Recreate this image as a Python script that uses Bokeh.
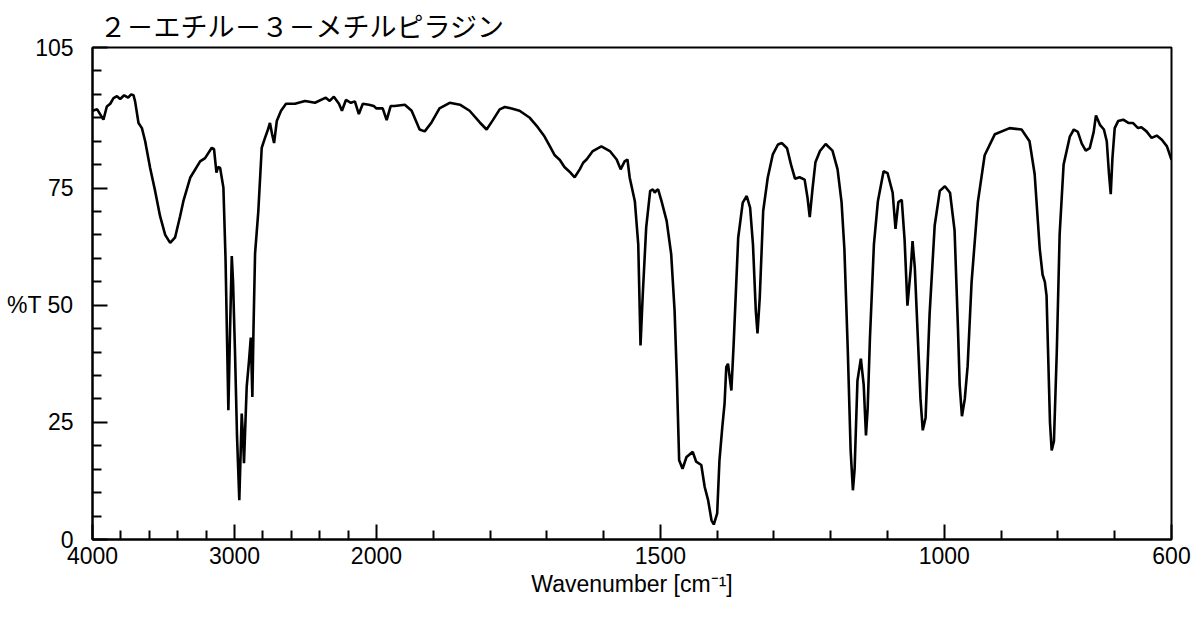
import numpy as np
from bokeh.plotting import figure
from bokeh.models import Range1d, FixedTicker
from bokeh.embed import file_html
from bokeh.resources import INLINE

title_text = "２－エチル－３－メチルピラジン"
x_label = "Wavenumber [cm⁻¹]"

wavenumber = [
    4000, 3967, 3923, 3899, 3875, 3852, 3828, 3805, 3777, 3749, 3728, 3711, 3700, 3676, 3652, 3629,
    3594, 3559, 3524, 3488, 3453, 3418, 3383, 3360, 3312, 3242, 3207, 3160, 3144, 3127, 3115, 3101,
    3078, 3063, 3043, 3031, 3019, 3010, 2996, 2982, 2966, 2957, 2949, 2940, 2933, 2914, 2898, 2885,
    2874, 2866, 2855, 2832, 2808, 2785, 2764, 2750, 2735, 2721, 2702, 2672, 2637, 2574, 2503, 2433,
    2357, 2329, 2300, 2264, 2243, 2215, 2180, 2152, 2124, 2096, 2053, 2019, 2000,
    1989, 1982, 1975, 1968, 1950, 1938, 1924, 1915, 1903, 1889, 1871, 1853, 1836, 1818, 1806, 1795,
    1783, 1774, 1762, 1748, 1730, 1716, 1704, 1695, 1686, 1677, 1669, 1660, 1651, 1642, 1636, 1630,
    1619, 1604, 1589, 1577, 1570, 1563, 1558, 1554, 1545, 1539, 1535, 1531, 1525, 1518, 1513, 1510,
    1507, 1504, 1498, 1489, 1481, 1475, 1471, 1467, 1461, 1454, 1443, 1437, 1428, 1422, 1416, 1410,
    1406, 1400, 1396, 1391, 1387, 1384, 1381, 1375, 1371, 1363, 1355, 1348, 1342, 1337, 1332, 1329,
    1325, 1319, 1311, 1302, 1293, 1286, 1277, 1270, 1263, 1255, 1246, 1241, 1237, 1232, 1227, 1219,
    1209, 1197, 1188, 1181, 1176, 1170, 1165, 1161, 1158, 1153, 1147, 1142, 1138, 1135, 1131, 1124,
    1117, 1107, 1100, 1091, 1086, 1081, 1075, 1070, 1065, 1059, 1056, 1052, 1047, 1042, 1038, 1033,
    1026, 1017, 1008, 999, 990, 982, 976, 973, 969, 964, 959, 952, 941, 929, 911, 885,
    864, 850, 841, 832, 827, 823, 820, 814, 811, 807, 802, 797, 790, 779, 772, 765,
    758, 751, 744, 737, 733, 726, 719, 714, 710, 707, 704, 700, 694, 685, 676, 668,
    659, 653, 644, 635, 626, 617, 608, 600,
]
transmittance = [
    91.5, 91.8, 89.6, 92.4, 93.0, 94.2, 94.6, 94.0, 94.8, 94.3, 95.0, 94.8, 93.5, 88.9, 87.8, 85.0,
    79.3, 74.4, 69.0, 65.0, 63.3, 64.5, 69.0, 72.2, 77.2, 80.7, 81.4, 83.6, 83.3, 78.3, 79.5, 79.3,
    75.1, 60.0, 27.6, 45.0, 60.5, 55.0, 39.7, 22.0, 8.4, 18.0, 26.9, 22.0, 16.3, 32.5, 38.0, 43.1,
    30.4, 45.0, 61.0, 70.1, 83.6, 85.7, 87.5, 88.9, 86.5, 84.6, 89.3, 91.5, 93.0, 93.0, 93.6, 93.2,
    94.3, 93.6, 94.5, 93.0, 91.5, 93.8, 93.2, 93.5, 90.8, 93.0, 92.8, 92.5, 92.0,
    92.0, 89.5, 92.5, 92.5, 92.8, 91.5, 87.5, 87.1, 89.0, 92.0, 93.2, 92.8, 91.5, 89.0, 87.5, 89.5,
    91.8, 92.3, 92.0, 91.5, 90.0, 88.0, 86.0, 84.0, 82.0, 81.0, 79.5, 78.5, 77.3, 79.0, 80.4, 81.1,
    82.9, 83.9, 82.9, 81.1, 79.0, 80.7, 81.1, 77.2, 72.2, 63.0, 41.4, 52.4, 66.6, 74.4, 74.7, 74.0,
    74.5, 74.7, 72.2, 68.0, 60.9, 48.8, 34.6, 16.9, 15.1, 17.6, 18.7, 16.6, 15.9, 11.2, 8.4, 4.1,
    3.2, 5.6, 16.9, 24.0, 29.0, 36.8, 37.5, 31.8, 41.7, 64.4, 71.9, 73.3, 70.8, 63.0, 48.8, 44.0,
    51.7, 70.1, 77.2, 82.2, 84.3, 84.6, 83.5, 80.0, 77.0, 77.3, 76.8, 73.0, 68.8, 75.0, 80.5, 82.9,
    84.4, 83.0, 79.0, 72.0, 62.0, 40.3, 19.0, 10.5, 15.0, 33.9, 38.6, 33.0, 22.2, 28.0, 43.0, 63.0,
    72.2, 78.6, 78.2, 74.0, 66.3, 72.0, 72.5, 64.0, 49.9, 58.0, 63.7, 58.0, 44.0, 30.0, 23.3, 26.0,
    48.0, 67.0, 74.4, 75.4, 74.0, 66.0, 45.0, 33.0, 26.3, 30.0, 37.0, 55.0, 72.0, 82.0, 86.5, 87.8,
    87.5, 85.0, 78.0, 62.0, 56.5, 55.0, 52.0, 25.0, 19.0, 21.0, 40.0, 65.0, 80.0, 86.0, 87.5, 87.0,
    84.5, 83.0, 83.5, 87.0, 90.5, 88.5, 87.5, 85.0, 77.9, 73.7, 81.4, 87.8, 89.3, 89.6, 88.9, 88.9,
    87.8, 88.0, 87.1, 85.7, 86.2, 85.3, 83.9, 81.0,
]

x_major = [4000, 3000, 2000, 1500, 1000, 600]
x_minor = [3800, 3600, 3400, 3200, 2800, 2600, 2400, 2200,
           1900, 1800, 1700, 1600, 1400, 1300, 1200, 1100, 900, 800, 700]
y_major = [0, 25, 50, 75, 105]
y_minor = [5, 10, 15, 20, 30, 35, 40, 45, 55, 60, 65, 70, 80, 85, 90, 95, 100]


def xmap(w):
    # split-scale IR axis: 4000-2000 compressed 4x relative to 2000-600
    w = np.asarray(w, dtype=float)
    return np.where(w >= 2000, (4000 - w) * 0.25, 500 + (2000 - w))


FONT = "Liberation Sans"

p = figure(width=1193, height=611, output_backend="svg", toolbar_location=None,
           x_range=Range1d(0, 1900), y_range=Range1d(0, 105),
           min_border_left=92, min_border_right=22, min_border_top=46, min_border_bottom=72,
           title=title_text)

p.line(xmap(wavenumber), transmittance, line_color="black", line_width=2.6)

p.title.text_font = "Noto Sans CJK JP"
p.title.text_font_size = "27px"
p.title.text_font_style = "normal"
p.title.text_color = "black"
p.title.offset = 7
p.title.standoff = 6

p.xgrid.visible = False
p.ygrid.visible = False
p.outline_line_color = "black"
p.outline_line_width = 2
p.outline_line_alpha = 1

xu = [float(v) for v in xmap(x_major)]
xa = p.xaxis[0]
xa.ticker = FixedTicker(ticks=xu, minor_ticks=[float(v) for v in xmap(x_minor)])
xa.major_label_overrides = {u: str(w) for u, w in zip(xu, x_major)}
xa.axis_label = x_label
ya = p.yaxis[0]
ya.ticker = FixedTicker(ticks=y_major, minor_ticks=y_minor)
ya.major_label_overrides = {50: "%T 50"}

for ax in (xa, ya):
    ax.axis_line_color = "black"
    ax.axis_line_width = 2
    ax.major_tick_line_color = "black"
    ax.minor_tick_line_color = "black"
    ax.major_tick_line_width = 2
    ax.minor_tick_line_width = 2
    ax.major_tick_in = 15
    ax.major_tick_out = 0
    ax.minor_tick_in = 9
    ax.minor_tick_out = 0
    ax.major_label_text_font = FONT
    ax.major_label_text_font_size = "23px"
    ax.major_label_text_color = "black"
    ax.axis_label_text_font = FONT
    ax.axis_label_text_font_size = "23px"
    ax.axis_label_text_font_style = "normal"
    ax.axis_label_text_color = "black"

xa.major_label_standoff = 7
xa.axis_label_standoff = 4
ya.major_label_standoff = 19

open("out.html", "w").write(file_html(p, INLINE))
